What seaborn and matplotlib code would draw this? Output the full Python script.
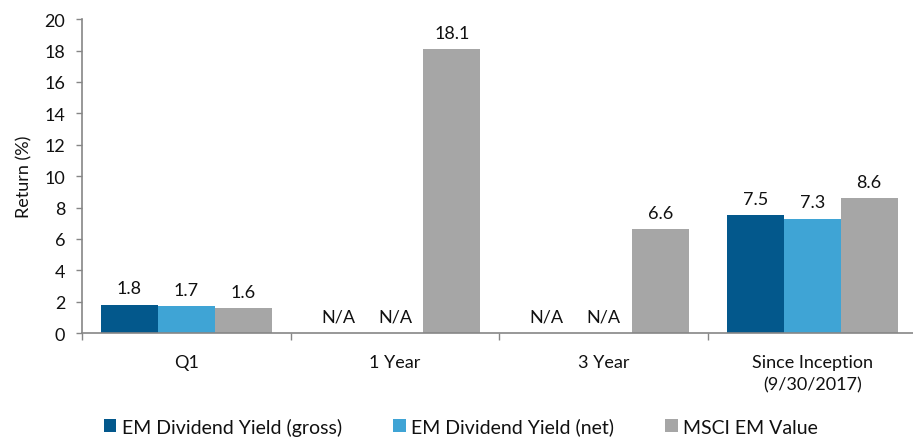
import numpy as np
import pandas as pd
import matplotlib
matplotlib.use("Agg")
import matplotlib.pyplot as plt
import seaborn as sns

categories = ["Q1", "1 Year", "3 Year", "Since Inception\n(9/30/2017)"]
series_names = ["EM Dividend Yield (gross)", "EM Dividend Yield (net)", "MSCI EM Value"]
gross = [1.8, None, None, 7.5]
net = [1.7, None, None, 7.3]
msci = [1.6, 18.1, 6.6, 8.6]
colors = ["#03588C", "#3FA4D5", "#A6A6A6"]
y_ticks = [0, 2, 4, 6, 8, 10, 12, 14, 16, 18, 20]

sns.set_theme(style="white")
plt.rcParams["font.family"] = ["Lato", "DejaVu Sans"]

rows = []
for name, vals in zip(series_names, [gross, net, msci]):
    for cat, v in zip(categories, vals):
        rows.append({"cat": cat, "series": name,
                     "value": np.nan if v is None else v})
df = pd.DataFrame(rows)
df["plot_value"] = df["value"].fillna(0)

FS = 13
TXT = "#111111"

fig = plt.figure(figsize=(9.13, 4.39), dpi=100)
ax = fig.add_axes([0.0898, 0.239, 0.914, 0.715])

sns.barplot(data=df, x="cat", y="plot_value", hue="series",
            order=categories, hue_order=series_names,
            palette=colors, width=0.82, gap=0, linewidth=0,
            saturation=1, ax=ax, legend=True)

for cont, name in zip(ax.containers, series_names):
    sub = df[df["series"] == name].set_index("cat").loc[categories]
    for bar, v in zip(cont, sub["value"]):
        x = bar.get_x() + bar.get_width() / 2
        h = 0 if np.isnan(v) else v
        txt = "N/A" if np.isnan(v) else f"{v:.1f}"
        ax.annotate(txt, (x, h), xytext=(0, 6), textcoords="offset points",
                    ha="center", va="bottom", fontsize=FS, color=TXT)

ax.set_ylim(0, 20)
ax.set_yticks(y_ticks)
ax.set_xlim(-0.5, 3.5)
ax.set_xlabel("")
ax.set_ylabel("Return (%)", fontsize=FS, color=TXT, labelpad=9)
ax.tick_params(axis="y", labelsize=FS, colors=TXT, length=4,
               color="#868686", direction="out", left=True, width=1, pad=8)
ax.set_xticks(range(len(categories)))
ax.set_xticklabels(categories, fontsize=FS, color=TXT, linespacing=1.5)
ax.set_xticks([-0.5, 0.5, 1.5, 2.5], minor=True)
ax.tick_params(axis="x", which="major", length=0, pad=15)
ax.tick_params(axis="x", which="minor", length=5, color="#868686",
               direction="out", bottom=True, width=1)
for s in ["top", "right"]:
    ax.spines[s].set_visible(False)
for s in ["left", "bottom"]:
    ax.spines[s].set_color("#868686")
    ax.spines[s].set_linewidth(1.2)

handles, labels = ax.get_legend_handles_labels()
ax.legend_.remove()
fig.legend(handles, labels, loc="center", bbox_to_anchor=(0.505, 0.026),
           ncol=3, frameon=False, fontsize=14, handlelength=0.65,
           handleheight=0.65, handletextpad=0.3, columnspacing=2.6,
           labelcolor=TXT)

fig.savefig("out.png", dpi=100)
